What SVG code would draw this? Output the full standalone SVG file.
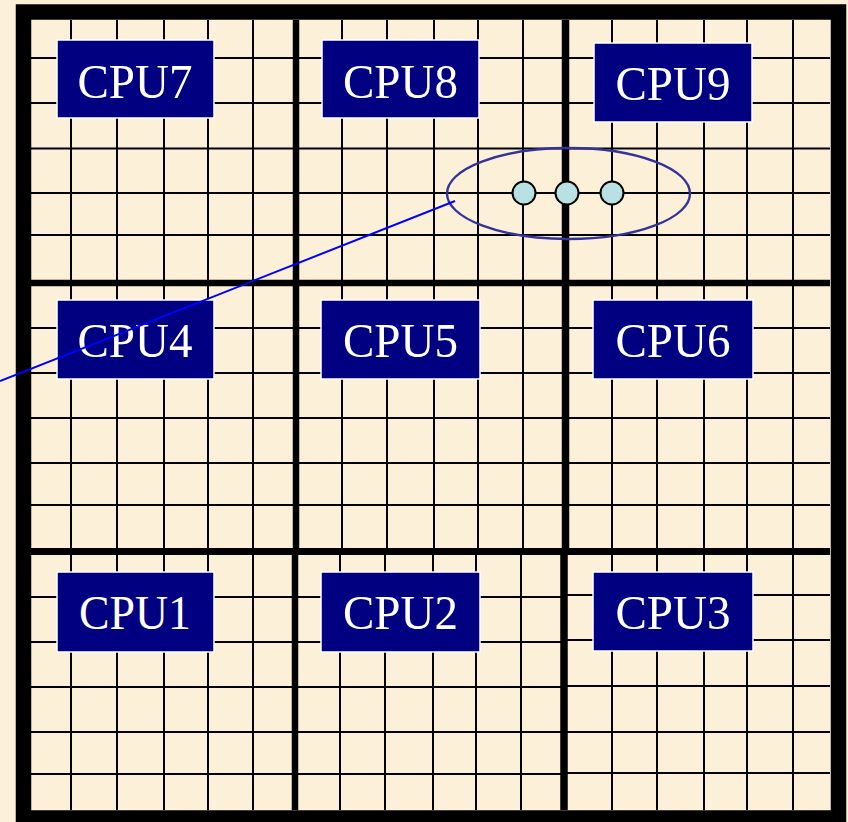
<svg xmlns="http://www.w3.org/2000/svg" width="848" height="822" viewBox="0 0 848 822">
<style>
.thin{stroke:#000;stroke-width:2;fill:none}
.thick{stroke:#000;fill:none}
.cpu rect{fill:#000080;stroke:#fff;stroke-width:1.5}
.cpu text{font-family:"Liberation Serif","Times New Roman",serif;font-size:49px;fill:#fff;text-anchor:middle}
.node{fill:#b9e0e2;stroke:#000;stroke-width:2}
</style>
<rect x="0" y="0" width="848" height="822" fill="#fcf0d9"/>
<g id="grid">
<path class="thin" d="M31 58H830M31 103H830M31 148.5H830M31 193H830M31 235H830"/>
<path class="thin" d="M31 328H830M31 373H830M31 418H830M31 463H830M31 505H830"/>
<path class="thin" d="M31 597H564M31 642H564M31 687H564M31 732H564M31 774H564"/>
<path class="thin" d="M564 595H830M564 640H830M564 686H830M564 732H830M564 773H830"/>
<path class="thin" d="M71 20V810M117 20V810M164 20V810M208 20V810M253 20V810"/>
<path class="thin" d="M342 20V551M387 20V551M434 20V551M478 20V551M523 20V551"/>
<path class="thin" d="M340 551V810M385 551V810M433 551V810M476 551V810M521 551V810"/>
<path class="thin" d="M612 20V810M657 20V810M704 20V810M747 20V810M793 20V810"/>
<path class="thick" stroke-width="6.5" d="M31 283H830"/>
<path class="thick" stroke-width="7" d="M31 551.5H830"/>
<path class="thick" stroke-width="6.5" d="M296 20V551M295 551V810"/>
<path class="thick" stroke-width="7.5" d="M565.5 20V551M564 551V810"/>
<rect x="23.5" y="12" width="815" height="806" fill="none" stroke="#000" stroke-width="15.5"/>
</g>
<g id="cpu7" class="cpu"><rect x="57" y="40" width="157" height="78"/><text x="135" y="98" textLength="115" lengthAdjust="spacingAndGlyphs">CPU7</text></g>
<g id="cpu8" class="cpu"><rect x="322" y="40" width="157" height="78"/><text x="400.5" y="98" textLength="115" lengthAdjust="spacingAndGlyphs">CPU8</text></g>
<g id="cpu9" class="cpu"><rect x="594" y="43" width="158" height="79"/><text x="673" y="100" textLength="115" lengthAdjust="spacingAndGlyphs">CPU9</text></g>
<g id="cpu4" class="cpu"><rect x="57" y="300" width="157" height="79"/><text x="135" y="357" textLength="115" lengthAdjust="spacingAndGlyphs">CPU4</text></g>
<g id="cpu5" class="cpu"><rect x="321" y="300" width="159" height="79"/><text x="400.5" y="357" textLength="115" lengthAdjust="spacingAndGlyphs">CPU5</text></g>
<g id="cpu6" class="cpu"><rect x="593" y="300" width="160" height="79"/><text x="673" y="357" textLength="115" lengthAdjust="spacingAndGlyphs">CPU6</text></g>
<g id="cpu1" class="cpu"><rect x="57" y="572" width="157" height="80"/><text x="135" y="629" textLength="112" lengthAdjust="spacingAndGlyphs">CPU1</text></g>
<g id="cpu2" class="cpu"><rect x="321" y="572" width="159" height="80"/><text x="400.5" y="629" textLength="115" lengthAdjust="spacingAndGlyphs">CPU2</text></g>
<g id="cpu3" class="cpu"><rect x="593" y="572" width="160" height="79"/><text x="673" y="629" textLength="115" lengthAdjust="spacingAndGlyphs">CPU3</text></g>
<g id="boundary">
<ellipse cx="568.5" cy="193.5" rx="121.5" ry="45.5" fill="none" stroke="#33339a" stroke-width="2.4"/>
<circle class="node" cx="524" cy="193" r="11.5"/>
<circle class="node" cx="567" cy="193" r="11.5"/>
<circle class="node" cx="612" cy="193" r="11.5"/>
</g>
<g id="connectors">
<line x1="455" y1="201" x2="0" y2="381" stroke="#0000ff" stroke-width="2"/>
</g>
</svg>
